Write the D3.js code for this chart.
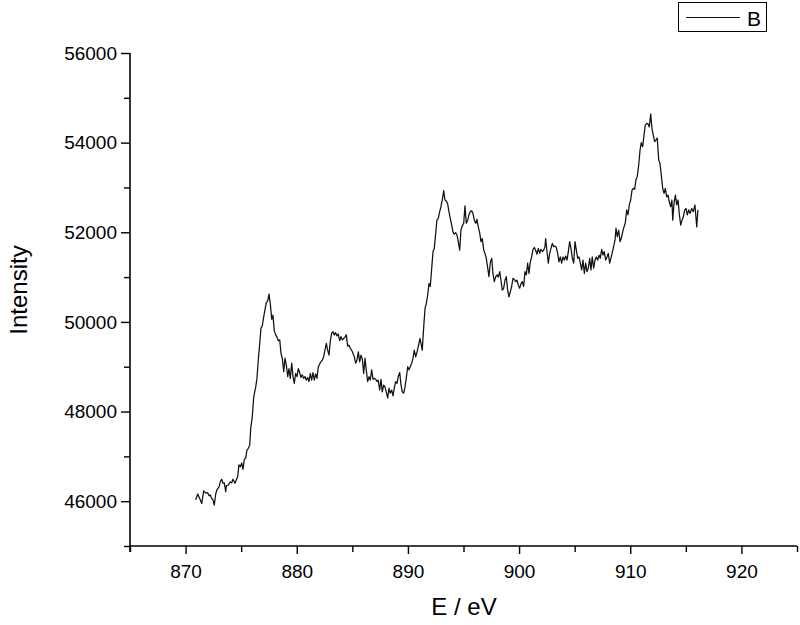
<!DOCTYPE html>
<html>
<head>
<meta charset="utf-8">
<script src="https://cdn.jsdelivr.net/npm/d3@7"></script>
<style>
  body { margin: 0; background: #fff; }
  text { font-family: "Liberation Sans", Arial, sans-serif; fill: #000; }
</style>
</head>
<body>
<svg id="chart" width="800" height="625"></svg>
<script>
// energy (eV)
const energy = [
  870.91, 871.09, 871.27, 871.45, 871.63, 871.81, 871.99, 872.11, 872.22, 872.35,
  872.47, 872.58, 872.71, 872.83, 873.01, 873.12, 873.25, 873.37, 873.48, 873.61,
  873.66, 873.84, 874.02, 874.15, 874.26, 874.44, 874.56, 874.69, 874.80, 874.92,
  875.05, 875.16, 875.28, 875.41, 875.52, 875.64, 875.77, 875.86, 876.00, 876.13,
  876.31, 876.42, 876.54, 876.67, 876.78, 876.90, 877.03, 877.14, 877.26, 877.39,
  877.50, 877.62, 877.75, 877.86, 877.98, 878.11, 878.22, 878.34, 878.47, 878.58,
  878.70, 878.83, 878.94, 879.06, 879.19, 879.30, 879.42, 879.55, 879.66, 879.78,
  879.90, 880.02, 880.14, 880.26, 880.38, 880.50, 880.62, 880.74, 880.86, 880.98,
  881.10, 881.22, 881.34, 881.46, 881.58, 881.70, 881.82, 881.94, 882.12, 882.30,
  882.42, 882.54, 882.66, 882.78, 882.90, 883.01, 883.14, 883.26, 883.38, 883.50,
  883.62, 883.74, 883.86, 883.98, 884.10, 884.22, 884.34, 884.46, 884.58, 884.70,
  884.82, 884.94, 885.06, 885.18, 885.30, 885.42, 885.54, 885.66, 885.78, 885.90,
  886.02, 886.14, 886.25, 886.38, 886.50, 886.61, 886.74, 886.86, 886.97, 887.10,
  887.22, 887.33, 887.46, 887.58, 887.69, 887.82, 887.94, 888.05, 888.18, 888.30,
  888.41, 888.54, 888.66, 888.77, 888.90, 889.02, 889.13, 889.26, 889.38, 889.49,
  889.62, 889.74, 889.85, 889.98, 890.10, 890.21, 890.34, 890.46, 890.57, 890.70,
  890.82, 890.93, 891.09, 891.29, 891.42, 891.54, 891.65, 891.78, 891.90, 892.01,
  892.14, 892.26, 892.37, 892.50, 892.61, 892.73, 892.86, 892.97, 893.09, 893.22,
  893.33, 893.45, 893.58, 893.69, 893.81, 893.94, 894.05, 894.17, 894.30, 894.41,
  894.53, 894.66, 894.77, 894.89, 895.02, 895.13, 895.25, 895.38, 895.49, 895.61,
  895.74, 895.85, 895.97, 896.10, 896.21, 896.33, 896.46, 896.57, 896.69, 896.82,
  896.93, 897.05, 897.18, 897.29, 897.41, 897.54, 897.65, 897.77, 897.90, 898.01,
  898.13, 898.26, 898.37, 898.49, 898.61, 898.73, 898.85, 898.97, 899.09, 899.33,
  899.45, 899.57, 899.69, 899.81, 899.93, 900.05, 900.17, 900.29, 900.41, 900.53,
  900.65, 900.77, 900.89, 901.01, 901.13, 901.25, 901.37, 901.49, 901.61, 901.73,
  901.85, 901.97, 902.09, 902.21, 902.33, 902.39, 902.51, 902.63, 902.75, 902.87,
  902.99, 903.11, 903.23, 903.35, 903.47, 903.59, 903.71, 903.83, 903.95, 904.07,
  904.19, 904.31, 904.43, 904.55, 904.67, 904.79, 904.91, 905.03, 905.15, 905.27,
  905.39, 905.51, 905.63, 905.75, 905.87, 905.99, 906.11, 906.23, 906.35, 906.47,
  906.58, 906.71, 906.83, 906.94, 907.07, 907.19, 907.30, 907.43, 907.55, 907.66,
  907.79, 907.91, 908.02, 908.15, 908.27, 908.47, 908.63, 908.72, 908.83, 908.96,
  909.08, 909.19, 909.32, 909.44, 909.55, 909.68, 909.80, 909.91, 910.04, 910.16,
  910.27, 910.40, 910.51, 910.63, 910.76, 910.88, 910.99, 911.12, 911.24, 911.35,
  911.48, 911.59, 911.71, 911.84, 911.95, 912.07, 912.20, 912.32, 912.43, 912.56,
  912.67, 912.79, 912.92, 913.04, 913.15, 913.28, 913.40, 913.51, 913.64, 913.75,
  913.82, 913.94, 914.06, 914.18, 914.30, 914.42, 914.54, 914.66, 914.78, 914.90,
  915.02, 915.13, 915.26, 915.38, 915.53, 915.67, 915.82, 915.98, 916.09
]

// intensity, same order as energy
const intensity = [
  46030, 46160, 46060, 45950, 46230, 46180, 46190, 46120, 46140, 46060,
  46030, 45910, 46160, 46260, 46320, 46430, 46490, 46400, 46410, 46210,
  46340, 46360, 46430, 46410, 46490, 46400, 46470, 46550, 46810, 46770,
  46850, 46710, 46930, 46960, 47140, 47180, 47250, 47630, 47880, 48330,
  48550, 48740, 49150, 49520, 49860, 49910, 50120, 50270, 50430, 50470,
  50620, 50410, 50060, 50150, 49800, 49710, 49660, 49580, 49600, 49300,
  49190, 48890, 49190, 49040, 48780, 48960, 48740, 49080, 48780, 48630,
  48850, 48780, 48960, 48870, 48760, 48820, 48740, 48780, 48700, 48760,
  48670, 48850, 48700, 48870, 48700, 48840, 48740, 49000, 49090, 49150,
  49220, 49370, 49520, 49370, 49260, 49560, 49750, 49780, 49710, 49760,
  49690, 49730, 49580, 49670, 49600, 49630, 49660, 49710, 49460, 49480,
  49410, 49370, 49300, 49220, 49080, 49150, 49330, 49110, 49260, 49170,
  48850, 49190, 48930, 48670, 48780, 48700, 48930, 48720, 48740, 48720,
  48670, 48700, 48480, 48720, 48440, 48590, 48550, 48440, 48300, 48520,
  48410, 48480, 48350, 48520, 48670, 48630, 48780, 48870, 48590, 48440,
  48410, 48550, 48740, 49000, 48930, 49000, 49080, 49190, 49370, 49220,
  49330, 49450, 49630, 49370, 49890, 50300, 50410, 50600, 50860, 50790,
  51200, 51570, 51640, 51980, 52270, 52310, 52460, 52570, 52720, 52930,
  52720, 52700, 52630, 52460, 52310, 52160, 52010, 51960, 51990, 51940,
  51790, 51600, 52050, 52140, 52200, 52590, 52200, 52270, 52390, 52460,
  52480, 52420, 52270, 52200, 52290, 52120, 51980, 51790, 51860, 51600,
  51530, 51420, 51200, 51010, 51310, 51420, 51080, 50900, 51010, 51050,
  51000, 51120, 50930, 50710, 50750, 50930, 51010, 50710, 50560, 50790,
  50970, 50950, 50900, 50930, 50820, 50750, 50850, 50900, 50790, 51120,
  51050, 51310, 51080, 51340, 51450, 51620, 51660, 51600, 51510, 51640,
  51530, 51620, 51570, 51600, 51680, 51860, 51570, 51310, 51530, 51640,
  51750, 51680, 51690, 51660, 51530, 51340, 51450, 51310, 51450, 51380,
  51470, 51380, 51570, 51790, 51640, 51420, 51310, 51790, 51600, 51420,
  51450, 51310, 51160, 51380, 51080, 51310, 51120, 51200, 51420, 51160,
  51450, 51200, 51380, 51450, 51380, 51490, 51420, 51620, 51490, 51570,
  51380, 51450, 51530, 51310, 51430, 51640, 51830, 52090, 51900, 52050,
  51790, 51860, 52010, 52120, 52200, 52500, 52390, 52610, 52720, 52940,
  52980, 52960, 53170, 53240, 53500, 53830, 54000, 53910, 54170, 54390,
  54430, 54420, 54350, 54640, 54320, 54170, 54020, 54060, 54100, 53610,
  53540, 53280, 52980, 52870, 52980, 52790, 52830, 52680, 52570, 52720,
  52270, 52650, 52830, 52610, 52720, 52390, 52160, 52270, 52350, 52500,
  52530, 52390, 52500, 52420, 52530, 52460, 52610, 52120, 52500
]

const xTicks = [870, 880, 890, 900, 910, 920]
const xMinor = [865, 875, 885, 895, 905, 915, 925]
const yTicks = [46000, 48000, 50000, 52000, 54000, 56000]
const yMinor = [45000, 47000, 49000, 51000, 53000, 55000]
const seriesName = "B"

const svg = d3.select("#chart")

// plot frame, in px
const plotL = 130, plotR = 797, plotT = 53, plotB = 546

const x = d3.scaleLinear().domain([865, 925]).range([plotL, plotR])
const y = d3.scaleLinear().domain([45000, 56000]).range([plotB, plotT])

const pts = energy.map((e, i) => [e, intensity[i]])

// x axis
const gx = svg.append("g").attr("transform", `translate(0,${plotB})`)
gx.call(d3.axisBottom(x).tickValues(xTicks).tickSize(8).tickPadding(11).tickFormat(d3.format("d")))
gx.append("g").call(d3.axisBottom(x).tickValues(xMinor).tickSize(6).tickFormat(""))
gx.selectAll(".domain").remove()
gx.append("line").attr("x1", plotL - 1).attr("x2", plotR).attr("stroke", "#000").attr("stroke-width", 1.6)

// y axis
const gy = svg.append("g").attr("transform", `translate(${plotL},0)`)
gy.call(d3.axisLeft(y).tickValues(yTicks).tickSize(9).tickPadding(4).tickFormat(d3.format("d")))
gy.append("g").call(d3.axisLeft(y).tickValues(yMinor).tickSize(6).tickFormat(""))
gy.selectAll(".domain").remove()
gy.append("line").attr("y1", plotT).attr("y2", plotB + 6).attr("stroke", "#000").attr("stroke-width", 1.6)

svg.selectAll(".tick line").attr("stroke", "#000").attr("stroke-width", 1.4)
svg.selectAll(".tick text").style("font-size", "19px")

// series line
svg.append("path")
  .datum(pts)
  .attr("fill", "none")
  .attr("stroke", "#111")
  .attr("stroke-width", 1.25)
  .attr("stroke-linejoin", "round")
  .attr("d", d3.line().x(d => x(d[0])).y(d => y(d[1])))

// axis titles
svg.append("text")
  .attr("x", 464).attr("y", 615)
  .attr("text-anchor", "middle")
  .style("font-size", "24px")
  .text("E / eV")

svg.append("text")
  .attr("transform", "translate(27,290) rotate(-90)")
  .attr("text-anchor", "middle")
  .style("font-size", "24px")
  .text("Intensity")

// legend
const lg = svg.append("g")
lg.append("rect").attr("x", 678.5).attr("y", 2.5).attr("width", 88).attr("height", 29)
  .attr("fill", "#fff").attr("stroke", "#000").attr("stroke-width", 1)
lg.append("line").attr("x1", 686).attr("x2", 740).attr("y1", 17.5).attr("y2", 17.5)
  .attr("stroke", "#111").attr("stroke-width", 1.1)
lg.append("text").attr("x", 747).attr("y", 26).style("font-size", "21px").text(seriesName)
</script>
</body>
</html>
